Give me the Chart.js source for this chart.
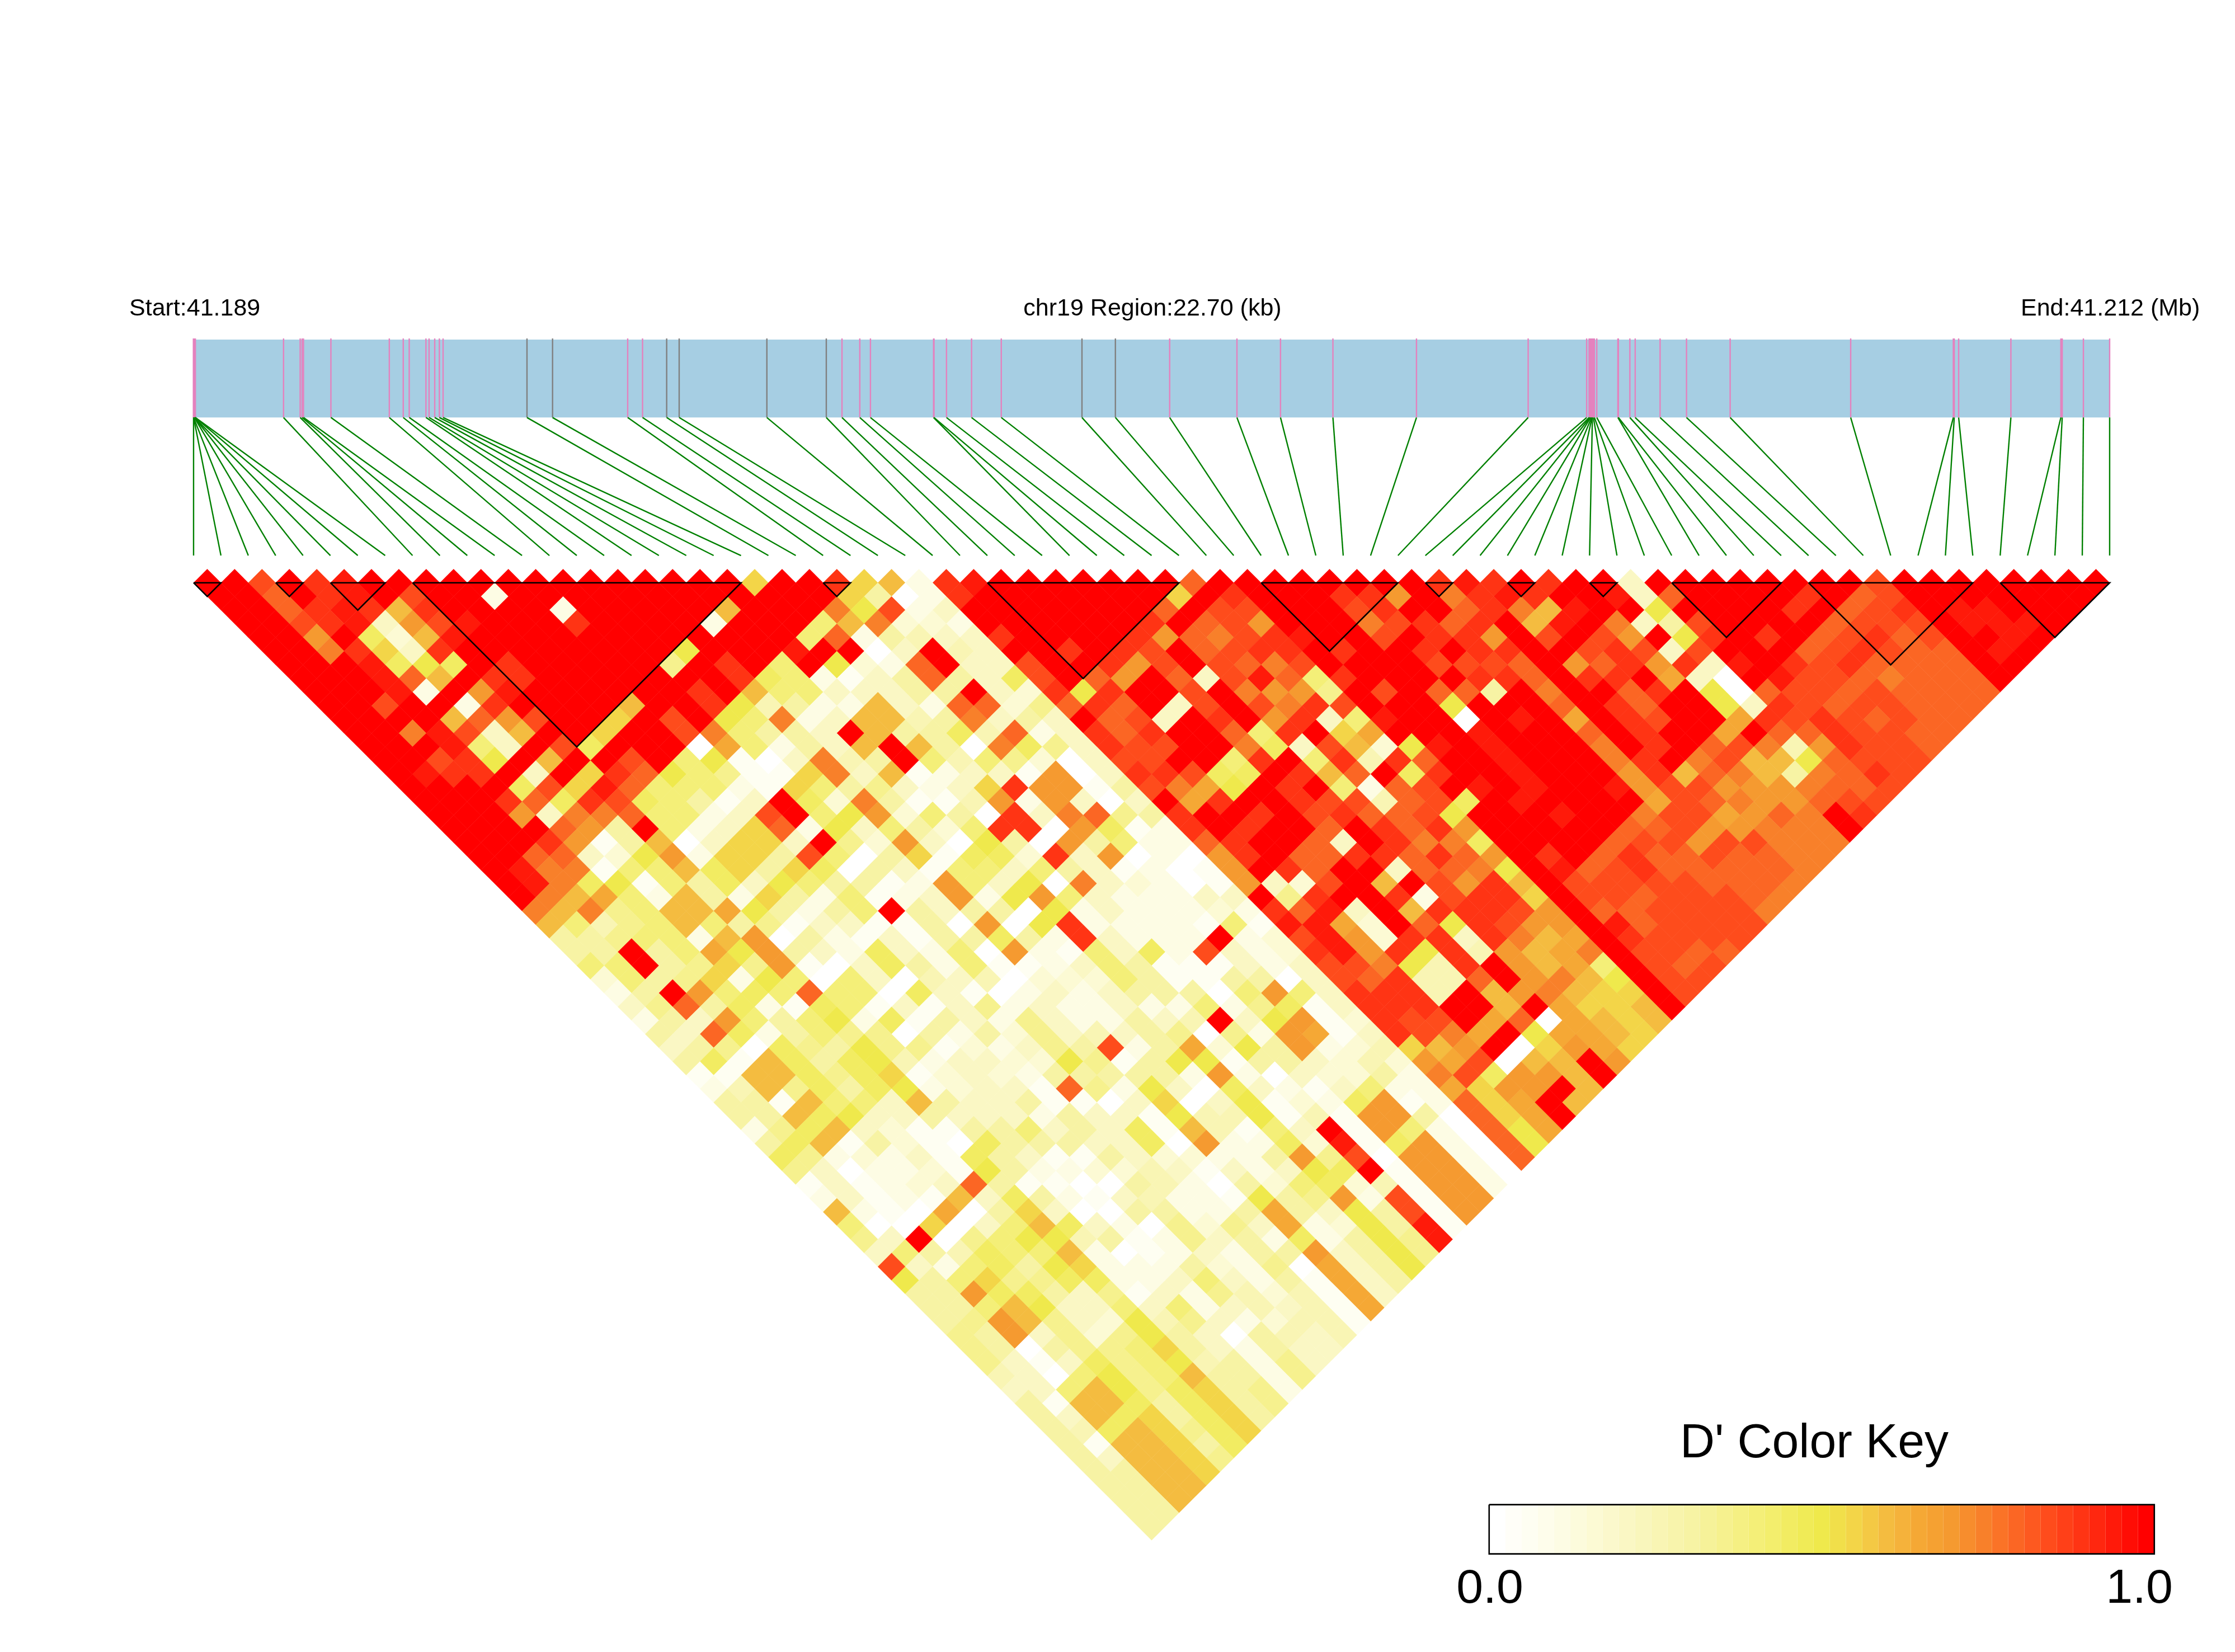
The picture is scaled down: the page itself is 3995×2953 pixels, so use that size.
<!DOCTYPE html>
<html lang="en">
  <head>
    <meta charset="UTF-8" />
    <title>chr19 LD heatmap</title>
    <script src="https://cdn.jsdelivr.net/npm/chart.js"></script>
    <style>
      body { margin: 0; background: #fff; }
      canvas { display: block; }
    </style>
  </head>
  <body>
    <canvas id="ldChart" width="3995" height="2953"></canvas>
    <script>
      const regionKb = 22.7;

      // SNP positions along the region, kb from the start
      const snpPositionsKb = [
        0, 0, 0, 0.01, 0.01, 0.01, 0.02, 0.02, 1.066, 1.263, 1.286, 1.302, 1.627, 2.319, 2.484, 2.555,
        2.753, 2.79, 2.857, 2.912, 2.956, 3.95, 4.253, 5.143, 5.319, 5.605, 5.753, 6.792, 7.496, 7.682,
        7.893, 8.019, 8.767, 8.772, 8.92, 9.217, 9.569, 10.525, 10.921, 11.564, 12.361, 12.877, 13.498,
        14.488, 15.811, 16.504, 16.533, 16.544, 16.55, 16.561, 16.567, 16.572, 16.584, 16.596, 16.624,
        16.874, 16.88, 17.016, 17.079, 17.374, 17.687, 18.204, 19.632, 20.848, 20.859, 20.911, 21.53,
        22.122, 22.138, 22.389, 22.7,
      ];
      const grayTickSnps = [21, 22, 25, 26, 27, 28, 37, 38];

      // LD blocks, first and last SNP of each
      const blockStarts = [0, 3, 5, 8, 23, 29, 39, 45, 48, 51, 54, 59, 66];
      const blockEnds = [1, 4, 7, 20, 24, 36, 44, 46, 49, 52, 58, 65, 70];

      // D' in tenths. Row n holds SNP pairs n+1 apart, left to right
      const dPrimeTenths = [
        [10,10,8.5,10,9,9.5,10,10,10,10,10,10,10,10,10,10,10,10,10,10,5.5,10,10,9,5.5,6,1,9,9.5,10,10,10,10,10,10,10,8,10,10,10,10,10,10,10,10,9,9.5,9,10,9,10,10,2,10,10,10,10,10,10,10,10,8.5,10,10,10,10,10,10,10,10],
        [10,10,8,10,9,9.5,10,8.5,10,10,1,10,10,10,10,10,10,10,10,10,10,10,10,5.5,3,0,1,9,10,10,10,10,10,10,10,5.5,10,9,10,10,10,9,9,7,10,7.5,9,9.5,9,10,10,9.5,2,8,10,10,10,10,9,10,8,8.5,10,10,10,10,10,10,10],
        [10,10,8,9,9.5,9,6,9,10,10,10,10,1,10,10,10,10,10,6,10,10,10,7.5,5,8.5,1,2,10,10,10,10,10,10,10,8,10,8.5,8.5,10,10,10,8.5,9,10,10,8,9,7.5,6,9.5,10,10,5,10,10,10,10,9,10,8,8.5,9,10,9.5,9.5,10,10,10],
        [10,10,8.5,9,9.5,2,7,8.5,9.5,10,10,10,9,10,10,10,10,1,10,10,10,4,6,7.5,1.5,1.5,1,10,10,10,10,10,10,9,10,8,8.5,7,10,10,10,7.5,8.5,9,8,9,10,6,9.5,10,7.5,2,3,8.5,10,10,10,10,8,8.5,8.5,8.5,10,9.5,9.5,9.5,10],
        [10,10,7,10,4.5,1.5,6,9.5,10,10,10,10,10,10,10,10,10,10,10,10,4,8,1,3,2.5,2,2,9,10,10,10,10,9,7,8,7.5,8.5,9,9.5,10,10,8.5,10,9,9,7,10,8.5,10,8.5,7,10,5,9,10,9,10,8,8.5,9,8,8.5,10,10,9.5,10],
        [10,10,7.5,9,5.5,2,9,10,10,10,10,10,10,10,10,5,10,10,10,9.5,10,10,0,2,10,2.5,2,10,10,9,10,9,8.5,10,8,8.5,9,9,10,9,10,10,9,10,9,9,10,10,8.5,9,8.5,2,8.5,10,10,10,8,8.5,9,8.5,8,8,10,9.5,10],
        [10,10,10,9.5,4.5,5,4.5,10,9,10,10,10,10,10,3.5,10,9,10,4,10,5,1.5,1,8,10,2,2,8.5,10,10,9,7,8.5,10,8.5,8,7.5,8.5,10,10,10,10,8.5,8.5,8.5,8,10,7,8,9,7,9,2,9.5,10,9,8.5,9,8,8,8,8,10,10],
        [10,10,10,9.5,8,6,10,9,9,10,10,10,10,10,10,10,9,4.5,4,1,0.5,2,3,8,3,2,4.5,8.5,10,8,7,10,8,2,8.5,9.5,8,4,9,10,10,10,10,9,9,8,10,9,9,10,6.5,2,0,10,9.5,8.5,8.5,8,7.5,8,8,8,10],
        [10,10,10,9.5,1,10,7,9.5,10,10,10,10,10,10,9,10,6,4,4,2,2,2,3,3,10,2,1.5,9,5,9,10,10,8.5,10,7.5,7,7,3.5,10,8.5,10,8,8,3,10,7.5,10,10,8,9,10,5,0,8,8.5,8.5,8,8.5,8,8,8,8],
        [10,10,8.5,10,10,1,9,10,10,10,10,6,10,10,9,5,2.5,3,1,1,6,2,1,8,8,1.5,3.5,8,9,8,10,2,8.5,10,8.5,7.5,9,8.5,10,10,10,5,10,10,10,8,10,9,8,10,10,5,2,9,8.5,8,8.5,8.5,8,8,8],
        [10,10,10,10,6,8,7,8.5,10,10,5.5,10,8.5,10,5,4,7.5,1,2,6,6,2.5,3,7.5,2,3,2,10,8,8.5,2,10,9,10,7,9,2,4,9.5,10,10,0,10,9.5,10,6.5,10,9,8.5,10,10,6.5,9,8.5,9,8.5,8,8.5,8,8],
        [10,10,7.5,9.5,8.5,2,6,10,10,5.5,10,10,8.5,7.5,4,3,3,2,10,6,3,3,4.5,2.5,8,1,2,9,8,9,10,10,8,4,9,10,5.5,6.5,10,10,10,9.5,10,10,10,8,10,9,10,10,6.5,10,8,8,9,8.5,8.5,8,8],
        [10,10,10,9.5,4,2,10,8.5,4.5,10,10,10,0,6.5,4,1,3,2,6,10,6,3,0,7.5,4.5,3.5,2,9,8.5,8.5,10,10,7.5,4.5,2,8.5,6,1.5,5,9.5,10,9.5,10,10,10,7.5,10,9,10,8,8.5,7.5,2.5,7,9,8.5,8.5,8],
        [10,10,8.5,9,5,10,6,10,10,8.5,10,4,5,0.5,0,2,7.5,2.5,3,10,4,2.5,4,3.5,1.5,0,2,8.5,8.5,10,10,4,9,10,4,9,2.5,9,8,10,10,9.5,10,10,10,7.5,9,10,7.5,8.5,6,6,5,8,8.5,8.5,8.5],
        [10,9.5,9,9,10,2,10,5.5,9,8,5,4,3.5,0.5,0.5,5.5,7.5,2,6,0.5,1,2,2,0.5,7,0,2,9,9,8.5,4.5,4.5,10,9,6,8,10,4.5,9,10,10,9.5,10,10,10,7,9,6,8,7.5,6,3,7.5,8,9,8.5],
        [10,10,10,10,4.5,8.5,5.5,9.5,8,4,4,4,1,0.5,5.5,4,3,3.5,2,1,2,5.5,9,7,7,0.5,3,8.5,7.5,6.5,5,10,9,10,4,1,8,8.5,10,9.5,10,9.5,10,10,9.5,7,8.5,8.5,7,7,7,7.5,8,8,8.5],
        [10,10,10,9,8,4.5,9,8.5,4.5,4,3,0.5,2,10,4.5,1.5,7.5,3,0.5,0.5,2.5,7,1,7,2,0,2,10,6.5,9,10,10,9,8.5,8.5,2.5,8,8.5,4.5,10,9.5,10,10,10,10,6.5,8.5,8,7.5,7,7,8,8.5,8.5],
        [10,10,10,7,2,7.5,7.5,8,4,4,1,2,8.5,10,4,5,7,1.5,4,3,0,9,2,7.5,8,3.5,3,9,10,10,9,10,8.5,9,8,8,8.5,5,10,10,10,9.5,10,10,7.5,8.5,8.5,6.5,7,8,7.5,10,9],
        [10,10,10,10,8,7,3,10,4,1,2,5.5,8,1,5,2,4,3,1.5,4,9,9,0,7,4.5,0.5,1,9,10,9,10,10,8,10,9,8,9,7,10,10,10,10,10,8,8,8.5,7,7,7.5,7.5,7.5,10],
        [10,10,10,9,7,0.5,3,6,0,2,5.5,5.5,2,10,3.5,1.5,7,2,0,5,3,0,7,3,4,1,1,8,9,10,10,8,2,10,9,7.5,7.5,4.5,10,10,10,10,8,8.5,8.5,7,8.5,8.5,7.5,7.5,7.5],
        [10,10,8,8,2,1.5,5,7,1,5.5,5.5,3,8.5,4,0,3,5.5,0.5,4.5,4.5,1.5,9,2,7,0,1,0,7,9,10,8,8,9,9,8,9,8,7,10,9,10,8,9,8,8,8.5,8,8,7.5,7.5],
        [10,9.5,7.5,7.5,0.5,4,4,6,4.5,5.5,3,5.5,4.5,0,3,2,0.5,4,4,2,4,3,2,0.5,1,0,0.5,7,10,9,8,10,10,2,8,8,7.5,5,10,9.5,8,8.5,9,8,8,8,8,8,7.5],
        [10,9.5,7.5,4.5,5,0.5,4,3,4.5,2,5,4,3,3,0.5,1,7,4,2,5,0,7.5,2,1.5,1,0,0.5,7,2,1.5,8.5,10,6,10,8.5,7,9,6,10,8.5,8.5,8.5,8.5,8.5,8,8,8,7.5],
        [10,7.5,6,6.5,4,1,6,3,1,5.5,3,1,4,0.5,1,2,7,1,5,7,4,2,1,1,1,2,2,10,3.5,9,10,10,9,1,8.5,9,9,5.5,10,8.5,8.5,8,8.5,8.5,8.5,8,7.5],
        [7.5,6,7.5,3.5,4,6,6,6.5,5,3,1,3,4,10,3,2,3,3,0,5,1,2,1,1,1,1.5,1,9,8,9.5,2,10,6,9,9,9,8.5,7,10,8,8,8.5,8.5,8.5,8.5,7.5],
        [6,4,2.5,3.5,4,6,4,3,3.5,0.5,2,2,0.5,0.5,3,0,7,0,5,9,1,1,1,1,0.5,4,0.5,9.5,9.5,6.5,1.5,10,8,5,9,8.5,7,7,10,9.5,8,8.5,8.5,8.5,8.5],
        [3,3,3.5,4,4,1,6,7,0,3,1,0.5,2,0.5,3,3,4.5,3,1,9,2,1,1,1,10,1,1.5,8.5,9.5,7,1.5,9,9,2,9,7.5,6,6.5,10,9,8.5,8.5,8.5,8.5],
        [3,3,10,3,4,6.5,5,7,3,2,1,4.5,2,1,4,0,7,1,0.5,4,2,4.5,1,8.5,2,1,1.5,9,9.5,7,9,5,9,2.5,7,6,6.5,7.5,10,8.5,8.5,8,8],
        [4,4,10,3,3.5,5.5,3.5,7,0.5,0,2,4.5,3,1,4,0.5,0.5,1,2,4,3,0.5,0.5,0.5,2,1,2,8.5,8.5,7.5,5,2.5,9,10,7,6,6.5,4,10,8.5,8,8.5],
        [1.5,4,3,3.5,5.5,1,5,4,0,4,2,0,2.5,2,2.5,0,1.5,1.5,1.5,4,3,0.5,0.5,3,3,0,2,8.5,8,9,2.5,2.5,8,10,7,7.5,6,5,10,8.5,8.5],
        [1,3,10,7,4,4.5,4,8,4,4,0,4.5,2,0.5,0,1,2,1,2,3,3,3,0,4,7,4,2,9,9,9,2.5,10,6,7,7.5,6,5.5,5.5,10,8.5],
        [2,3.5,8,3,4.5,1,0.5,4.5,4,0.5,2,0.5,2,3.5,1,2,1,1,2,1,1,4,1,3.5,4.5,0.5,2,9,9,9,10,10,6,10,6.5,5.5,5.5,6,10],
        [1,3,2,7,4,3,4,5,1,4.5,0.5,3,2,1,3.5,2,1,1,3,2,2.5,10,2,5,7,0.5,1.5,9,8.5,8.5,10,6.5,8,0,6.5,6,5.5,6],
        [3,2,8,4.5,1,3,4,3.5,3.5,0,3,1,3,1.5,3.5,2,2.5,2,3,3.5,0,3.5,1,7,6.5,0.5,2,9,8.5,7.5,6.5,10,5,6.5,6.5,6,5.5],
        [2,3,3.5,0,4.5,3.5,3,5,3.5,3.5,0.5,1.5,1,2,3.5,3,8.5,1,3,6.5,1.5,5,3,7,1,1.5,2.5,5.5,6,7,10,0,5.5,7,6.5,5.5],
        [3,4.5,0.5,6,4.5,3,4.5,5,2.5,1,2,2,1.5,1.5,5,3.5,0.5,3,5,5,0.5,3,3,2,1.5,2.5,1.5,7,6.5,8.5,0,6,6,10,7],
        [0.5,0.5,6,6,4.5,3.5,4.5,5.5,0.5,1.5,2,1.5,1,3,3,3,3,3,1,7,1,0,2,1.5,1.5,3,1,7.5,8.5,4.5,7,7,6,10],
        [1,2.5,6,3.5,4.5,3,4.5,5,1,1.5,2,2,0.5,8,3.5,1,5,2,0,4.5,2,1,0.5,2,4,1,1,6.5,5.5,7,7,10,6],
        [3,3,0.5,6,4,4,2,6,3,2,2,3,0.5,0.5,0,2,5.5,0,2,5,0.5,1.5,1,4.5,7,0.5,1,8,5.5,6.5,10,6],
        [3,3,6,4.5,5,2,2,3,2,2,2,1,3,2,2,0.5,5,2.5,2.5,5,0.5,2.5,0.5,7,7,3,0,8,5.5,6.5,10],
        [1,3.5,4.5,6,2,1.5,0.5,0.5,3,3,4,2,3,2,4.5,0.5,6,2.5,0.5,4,2,10,0.5,7,4,1,0,8,5,6.5],
        [3,4.5,6,0.5,3,1.5,0.5,0,4.5,3,3,3,2,2,4.5,0,7,1,1,4.5,1.5,9.5,0.5,4.5,7,1,0,8,5],
        [4.5,3.5,1,1.5,1,2,0.5,4.5,3,2,0.5,0.5,3,2,1.5,1.5,1,1,3,7,3.5,8.5,0,7,7,1,0,8],
        [3.5,2,0,1,1,1.5,0.5,5,3,1,1,1.5,1.5,2.5,2,0.5,2,1,2,5,4.5,10,0.5,7,7,1,0],
        [0.5,2,0.5,1,1.5,2,8,3,0.5,0.5,0,0,3,2.5,1,0,3,1.5,4,4.5,1.5,2.5,0.5,7,7,1],
        [1,2,0.5,1,0.5,6,2,4.5,3,1,0.5,2,2.5,1,1,0.5,5,3,3.5,7,1,8.5,0.5,7,7],
        [6,1,0.5,0,6.5,0,3,5.5,2,0,0,3,3,1,1,3,6.5,3,2,5,3,8.5,0.5,7],
        [4,0,0,5.5,0,2,4,6,4.5,2,1,0,3.5,1.5,3.5,2,6.5,1,1.5,5,3,9.5,0.5],
        [3.5,2,10,0,3.5,4,5,5,2.5,3,0.5,1,3.5,2,3,1,4.5,1,3,5,3.5,9.5],
        [2,4,3,2.5,4.5,4,4,6,1,0,0.5,1,2,1,3,3,7,2,3,5,3.5],
        [8.5,2,1,4,4.5,3,5,5.5,1,1,1,3,1.5,1,3.5,0,6.5,2,3,5],
        [5,3,4,5.5,3.5,3.5,4.5,4.5,1,1,2,4,2,1,3,0.5,6.5,2,3],
        [3,3,7,4.5,4.5,3,2,3.5,0.5,2,1,3.5,2.5,1.5,2.5,0.5,6.5,2],
        [3,3,4,6,5,2,2,4,2,4,1,2,2.5,2,2.5,0.5,6.5],
        [3,3.5,7,6,3.5,2,1.5,5,2.5,3.5,2,1,1.5,2.5,2.5,0.5],
        [3.5,3,7,2,3.5,1.5,3.5,5,3,2,0,3,2.5,2,2.5],
        [3.5,3,0,3,3.5,3.5,4,5.5,3,2,1,3,2,2],
        [3.5,2,0.5,2,4.5,3.5,4,5,2.5,3,1,3.5,2],
        [2.5,2,0,4,5,3.5,4,6,3,3,1,3.5],
        [2,2,4,6,5,3.5,4.5,5.5,3,3.5,1],
        [3,0.5,6,6,4.5,3,4.5,5.5,3,3.5],
        [3,2,6,4.5,5.5,3,4.5,5.5,3],
        [3,2.5,4.5,6,5.5,3.5,4.5,5.5],
        [3,0.5,6,6,5.5,3,4.5],
        [3,2,6,6,5.5,3.5],
        [3,3,6,6,5.5],
        [3,3,6,6],
        [3,3,6],
        [3,3],
        [3],
      ];

      // colour ramp of the D' key
      const rampStops = [0, 0.1, 0.2, 0.3, 0.4, 0.5, 0.55, 0.6, 0.65, 0.7, 0.75, 0.8, 0.85, 0.9, 0.95, 1];
      const rampColors = [
        [255, 255, 255], [253, 252, 228], [250, 247, 196], [247, 243, 164], [244, 239, 120], [239, 233, 76],
        [243, 213, 72], [244, 188, 64], [245, 168, 53], [245, 154, 48], [248, 128, 42], [251, 102, 36],
        [254, 76, 28], [255, 52, 20], [255, 26, 10], [255, 0, 0],
      ];
      const keySteps = 41;

      function rampColor(v) {
        let n = 1;
        while (n < rampStops.length - 1 && v > rampStops[n]) n++;
        const t = (v - rampStops[n - 1]) / (rampStops[n] - rampStops[n - 1]);
        const c = rampColors[n - 1].map((a, m) => Math.round(a + (rampColors[n][m] - a) * t));
        return `rgb(${c[0]},${c[1]},${c[2]})`;
      }

      const snpStep = regionKb / (snpPositionsKb.length - 1);

      const cells = [];
      const cellColors = [];
      dPrimeTenths.forEach((row, r) => {
        row.forEach((value, i) => {
          cells.push({ x: (i + (r + 1) / 2) * snpStep, y: r + 1 });
          cellColors.push(rampColor(value / 10));
        });
      });

      const plainLine = (data, color, width) => ({
        type: "line",
        data,
        borderColor: color,
        borderWidth: width,
        pointRadius: 0,
        tension: 0,
        fill: false,
      });

      const blockSets = blockStarts.map((a, n) => {
        const b = blockEnds[n];
        return plainLine(
          [
            { x: a * snpStep, y: 1 },
            { x: b * snpStep, y: 1 },
            { x: ((a + b) / 2) * snpStep, y: 1 + (b - a) },
            { x: a * snpStep, y: 1 },
          ],
          "#000",
          2.6
        );
      });

      const bandTop = -16.78;
      const bandBottom = -11.08;
      const linkEnd = -0.99;

      const linkSets = snpPositionsKb.map((kb, i) =>
        plainLine([{ x: kb, y: bandBottom }, { x: i * snpStep, y: linkEnd }], "#008000", 2.4)
      );
      const tickSets = snpPositionsKb.map((kb, i) =>
        plainLine(
          [{ x: kb, y: bandTop - 0.08 }, { x: kb, y: bandBottom }],
          grayTickSnps.includes(i) ? "#808080" : "#E482BE",
          2.4
        )
      );

      const keyTop = 68.4;
      const keyBottom = 72.0;
      const keyOutline = plainLine(
        [
          { x: 0, y: keyTop },
          { x: 1, y: keyTop },
          { x: 1, y: keyBottom },
          { x: 0, y: keyBottom },
          { x: 0, y: keyTop },
        ],
        "#000",
        2.6
      );
      keyOutline.xAxisID = "xKey";
      const keySets = [];
      for (let n = 0; n < keySteps; n++) {
        const set = plainLine(
          [
            { x: n / keySteps, y: (keyTop + keyBottom) / 2 },
            { x: (n + 1) / keySteps, y: (keyTop + keyBottom) / 2 },
          ],
          rampColor(n / (keySteps - 1)),
          88
        );
        set.xAxisID = "xKey";
        set.borderCapStyle = "butt";
        keySets.push(set);
      }

      const pageLabels = [
        { text: "Start:41.189", x: 231, y: 564, size: 43, align: "left" },
        { text: "chr19 Region:22.70 (kb)", x: 2060, y: 564, size: 43, align: "center" },
        { text: "End:41.212 (Mb)", x: 3612, y: 564, size: 43, align: "left" },
        { text: "D' Color Key", x: 3243, y: 2605, size: 86, align: "center" },
        { text: "0.0", x: 2663, y: 2865, size: 86, align: "center" },
        { text: "1.0", x: 3824, y: 2865, size: 86, align: "center" },
      ];

      const labelPlugin = {
        id: "pageLabels",
        afterDraw(chart) {
          const ctx = chart.ctx;
          ctx.save();
          ctx.fillStyle = "#000";
          ctx.textBaseline = "alphabetic";
          pageLabels.forEach((l) => {
            ctx.font = `${l.size}px "Liberation Sans", Arial, sans-serif`;
            ctx.textAlign = l.align;
            ctx.fillText(l.text, l.x, l.y);
          });
          ctx.restore();
        },
      };

      new Chart(document.getElementById("ldChart"), {
        type: "scatter",
        data: {
          datasets: [
            ...blockSets,
            {
              type: "scatter",
              data: cells,
              pointStyle: "rectRot",
              pointRadius: 24.7,
              pointBorderWidth: 0,
              backgroundColor: cellColors,
              clip: false,
            },
            ...linkSets,
            ...tickSets,
            {
              type: "line",
              data: [{ x: 0, y: bandTop }, { x: regionKb, y: bandTop }],
              fill: { value: bandBottom },
              backgroundColor: "#A6CEE3",
              borderWidth: 0,
              pointRadius: 0,
            },
            keyOutline,
            ...keySets,
          ],
        },
        options: {
          responsive: false,
          animation: false,
          events: [],
          layout: { padding: 0, autoPadding: false },
          plugins: { legend: { display: false }, tooltip: { enabled: false } },
          scales: {
            x: { type: "linear", display: false, min: -2.2932, max: 24.185 },
            y: { type: "linear", display: false, reverse: true, min: -41.605, max: 79.172 },
            xKey: { type: "linear", axis: "x", display: false, min: -2.2387, max: 1.1213 },
          },
        },
        plugins: [labelPlugin],
      });
    </script>
  </body>
</html>
